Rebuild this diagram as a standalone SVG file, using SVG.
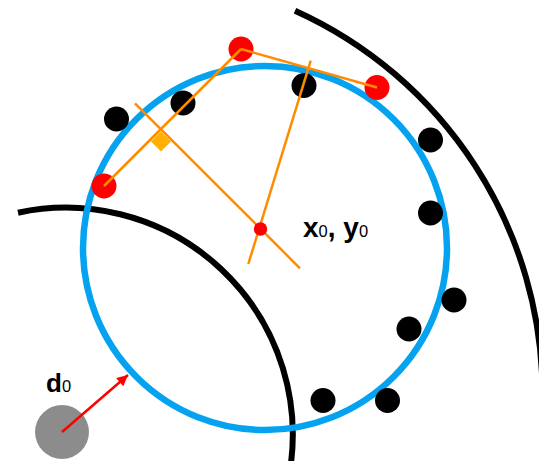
<svg xmlns="http://www.w3.org/2000/svg" width="539" height="461" viewBox="0 0 539 461">
  <style>
    .arc { fill: none; stroke: #000; stroke-width: 6; }
    .blue { fill: none; stroke: #05A3EF; stroke-width: 6.5; }
    .bdot { fill: #000; }
    .rdot { fill: #FF0000; }
    .orange { stroke: #FF8C00; stroke-width: 2.5; fill: none; }
    .lbl { font-family: "Liberation Sans", Arial, sans-serif; fill: #000; }
  </style>
  <defs>
    <marker id="ah" viewBox="0 0 10 10" refX="10" refY="5" markerWidth="14" markerHeight="11" markerUnits="userSpaceOnUse" orient="auto">
      <path d="M0,0 L10,5 L0,10 z" fill="#FF0000"/>
    </marker>
  </defs>
  <rect width="539" height="461" fill="#fff"/>

  <g id="inner-boundary">
    <path class="arc" d="M 18 212.7 A 227 227 0 0 1 290 470"/>
  </g>
  <g id="outer-boundary">
    <path class="arc" d="M 295 10.7 A 420.5 420.5 0 0 1 542.5 394"/>
  </g>
  <g id="fitted-circle">
    <circle class="blue" cx="265" cy="248" r="182"/>
  </g>

  <g id="source">
    <circle cx="62" cy="432" r="27" fill="#8C8C8C"/>
  </g>

  <g id="black-points">
    <circle class="bdot" cx="116.5" cy="119" r="12.5"/>
    <circle class="bdot" cx="183" cy="103" r="12.5"/>
    <circle class="bdot" cx="304" cy="85.5" r="12.5"/>
    <circle class="bdot" cx="430.5" cy="140" r="12.5"/>
    <circle class="bdot" cx="430.5" cy="213" r="12.5"/>
    <circle class="bdot" cx="454" cy="300" r="12.5"/>
    <circle class="bdot" cx="409" cy="329" r="12.5"/>
    <circle class="bdot" cx="323" cy="400.5" r="12.5"/>
    <circle class="bdot" cx="387.5" cy="400.5" r="12.5"/>
  </g>

  <g id="red-points">
    <circle class="rdot" cx="104" cy="186" r="12.5"/>
    <circle class="rdot" cx="241" cy="49" r="12.5"/>
    <circle class="rdot" cx="377" cy="87.5" r="12.5"/>
  </g>

  <g id="connectors">
    <line class="orange" x1="104" y1="186" x2="241" y2="49"/>
    <line class="orange" x1="241" y1="49" x2="377" y2="87.5"/>
    <line class="orange" x1="135" y1="103.3" x2="300" y2="268.3"/>
    <line class="orange" x1="310.7" y1="60.7" x2="248.3" y2="264"/>
    <polygon points="161,131.5 151,141.5 161,151.5 171,141.5" fill="#FFB000"/>
    <line x1="62" y1="432" x2="128" y2="375" stroke="#FF0000" stroke-width="2.5" marker-end="url(#ah)"/>
  </g>

  <g id="center">
    <circle cx="260.5" cy="229" r="6.7" fill="#FF0000"/>
  </g>

  <g id="label-center">
    <text class="lbl" x="303" y="237" font-size="28" font-weight="bold">x<tspan font-size="16.5" font-weight="normal">0</tspan>, y<tspan font-size="16.5" font-weight="normal">0</tspan></text>
  </g>
  <g id="label-d0">
    <text class="lbl" x="46" y="391.5" font-size="26" font-weight="bold">d<tspan font-size="16.5" font-weight="normal">0</tspan></text>
  </g>
</svg>
